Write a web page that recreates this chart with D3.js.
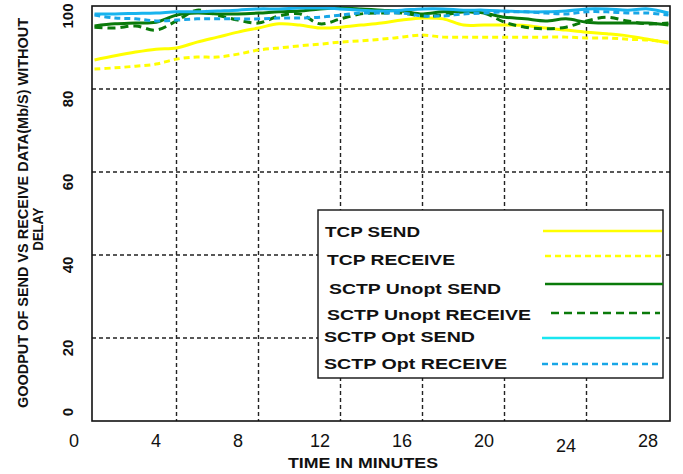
<!DOCTYPE html>
<html>
<head>
<meta charset="utf-8">
<script src="https://cdn.jsdelivr.net/npm/d3@7"></script>
<style>
  html, body { margin: 0; padding: 0; background: #fff; }
  svg { display: block; font-family: "Liberation Sans", Arial, sans-serif; }
</style>
</head>
<body>
<svg id="chart" width="683" height="474"></svg>
<script>
// ---------- data ----------
const minutes = [1,2,3,4,5,6,7,8,9,10,11,12,13,14,15,16,17,18,19,20,21,22,23,24,25,26,27,28,29];
const tcpSend = [87.0,88.0,88.9,89.6,89.9,91.3,92.5,93.7,94.7,95.7,95.4,94.7,94.9,95.4,95.9,96.6,97.1,96.9,95.4,95.4,95.4,95.3,94.7,94.2,93.7,93.3,92.8,92.0,91.1];
const tcpReceive = [84.8,85.1,85.5,86.0,87.2,87.7,87.7,88.4,89.4,89.9,90.4,90.8,91.3,91.6,92.0,92.5,93.0,92.5,92.5,92.5,92.5,92.5,92.5,92.5,92.3,92.3,92.0,91.8,91.3];
const sctpUnoptSend = [95.2,95.7,95.9,96.1,97.8,98.3,98.1,98.1,98.3,98.6,98.8,99.3,99.5,99.3,99.0,98.8,98.1,98.6,98.6,98.3,97.3,96.9,96.4,96.9,96.1,95.9,95.9,95.9,95.4];
const sctpUnoptReceive = [94.9,94.7,95.2,94.2,96.4,99.0,97.8,96.6,95.9,97.6,98.1,95.7,96.9,98.1,98.3,98.3,97.6,97.8,98.6,98.3,96.1,94.9,94.5,94.9,96.4,97.3,96.4,95.7,95.9];
const sctpOptSend = [98.1,98.1,98.2,98.3,98.6,98.6,98.8,99.0,99.3,99.3,99.5,99.5,99.3,99.0,98.8,99.0,99.3,99.3,99.0,99.0,98.8,98.6,98.6,98.8,99.3,99.3,99.0,99.3,98.3];
const sctpOptReceive = [97.8,97.1,96.9,96.4,96.6,96.9,96.9,96.9,96.9,97.1,97.1,97.3,97.8,98.3,98.3,98.3,97.6,97.6,98.1,98.3,98.6,98.6,98.3,98.1,98.6,98.6,98.3,98.3,97.8];

const seriesNames = ["TCP SEND","TCP RECEIVE","SCTP Unopt SEND","SCTP Unopt RECEIVE","SCTP Opt SEND","SCTP Opt RECEIVE"];
const xTickLabels = [0,4,8,12,16,20,24,28];
const xGridValues = [5,9,13,17,21,25];
const yTickLabels = [0,20,40,60,80,100];
const yGridValues = [20,40,60,80];

// ---------- styles ----------
const styles = [
  {color:"#ffff00", dash:null,  lw:3, legX1:543, legX2:662, legY:231, textX:325, textY:237, textLen:95},
  {color:"#ffff00", dash:"6,4", lw:3, legX1:545, legX2:663, legY:256, textX:327, textY:265, textLen:128},
  {color:"#0a7a0a", dash:null,  lw:3, legX1:545, legX2:663, legY:284, textX:329, textY:294, textLen:172},
  {color:"#0a7a0a", dash:"8,5", lw:3, legX1:551, legX2:660, legY:313, textX:327, textY:320, textLen:204},
  {color:"#18b4ee", dash:null,  lw:3, legX1:542, legX2:660, legY:338, textX:324, textY:342, textLen:151, legColor:"#1ae6f0"},
  {color:"#18a6e6", dash:"6,4", lw:3, legX1:542, legX2:660, legY:364, textX:324, textY:369, textLen:183}
];
const allSeries = [tcpSend, tcpReceive, sctpUnoptSend, sctpUnoptReceive, sctpOptSend, sctpOptReceive];

// ---------- scales ----------
const x = d3.scaleLinear().domain([0, 28]).range([74, 648]);
const y = d3.scaleLinear().domain([0, 100]).range([421, 6]);
const plotL = 92, plotR = 670, plotT = y(100), plotB = y(0);

const svg = d3.select("#chart");

// grid
const grid = svg.append("g").attr("stroke", "#222").attr("stroke-width", 1.4).attr("stroke-dasharray", "4,3");
grid.selectAll("line.h").data(yGridValues).join("line")
  .attr("x1", plotL).attr("x2", plotR).attr("y1", d => y(d)).attr("y2", d => y(d));
grid.selectAll("line.v").data(xGridValues).join("line")
  .attr("x1", d => x(d)).attr("x2", d => x(d)).attr("y1", plotT).attr("y2", plotB);

// lines
const line = d3.line().x((d, i) => x(minutes[i])).y(d => y(d)).curve(d3.curveCatmullRom.alpha(0.5));
const linesG = svg.append("g");
allSeries.forEach((s, k) => {
  linesG.append("path").datum(s)
    .attr("d", line)
    .attr("fill", "none")
    .attr("stroke", styles[k].color)
    .attr("stroke-width", styles[k].lw)
    .attr("stroke-dasharray", styles[k].dash)
    .attr("stroke-linejoin", "round");
});

// frame
svg.append("rect").attr("x", plotL).attr("y", plotT).attr("width", plotR - plotL).attr("height", plotB - plotT)
  .attr("fill", "none").attr("stroke", "#111").attr("stroke-width", 1.6);

// legend
const leg = svg.append("g");
leg.append("rect").attr("x", 318).attr("y", 210).attr("width", 345).attr("height", 168)
  .attr("fill", "#fff").attr("stroke", "#111").attr("stroke-width", 1.4);
seriesNames.forEach((name, k) => {
  const st = styles[k];
  leg.append("text").attr("x", st.textX).attr("y", st.textY)
    .attr("font-size", 15).attr("font-weight", "bold").attr("fill", "#111")
    .attr("textLength", st.textLen).attr("lengthAdjust", "spacingAndGlyphs")
    .text(name);
  leg.append("line").attr("x1", st.legX1).attr("x2", st.legX2).attr("y1", st.legY).attr("y2", st.legY)
    .attr("stroke", st.legColor || st.color).attr("stroke-width", 2.5)
    .attr("stroke-dasharray", st.dash);
});

// x tick labels
svg.append("g").selectAll("text").data(xTickLabels).join("text")
  .attr("x", d => x(d)).attr("y", d => d === 24 ? 452 : 447)
  .attr("text-anchor", "middle").attr("font-size", 18).attr("fill", "#111")
  .text(d => d);

// y tick labels (rotated)
svg.append("g").selectAll("text").data(yTickLabels).join("text")
  .attr("transform", d => `translate(73,${d === 0 ? y(d) - 9 : y(d) + 10}) rotate(-90)`)
  .attr("text-anchor", "middle").attr("font-size", 15).attr("font-weight", "bold").attr("fill", "#111")
  .text(d => d);

// axis titles
svg.append("text").attr("x", 363).attr("y", 468).attr("text-anchor", "middle")
  .attr("font-size", 15).attr("font-weight", "bold").attr("fill", "#111")
  .attr("textLength", 150).attr("lengthAdjust", "spacingAndGlyphs")
  .text("TIME IN MINUTES");
svg.append("text").attr("transform", "translate(28,213) rotate(-90)").attr("text-anchor", "middle")
  .attr("font-size", 15).attr("font-weight", "bold").attr("fill", "#111")
  .attr("textLength", 390).attr("lengthAdjust", "spacingAndGlyphs")
  .text("GOODPUT OF SEND VS RECEIVE DATA(Mb/S) WITHOUT");
svg.append("text").attr("transform", "translate(43,229) rotate(-90)").attr("text-anchor", "middle")
  .attr("font-size", 15).attr("font-weight", "bold").attr("fill", "#111")
  .attr("textLength", 43).attr("lengthAdjust", "spacingAndGlyphs")
  .text("DELAY");
</script>
</body>
</html>
